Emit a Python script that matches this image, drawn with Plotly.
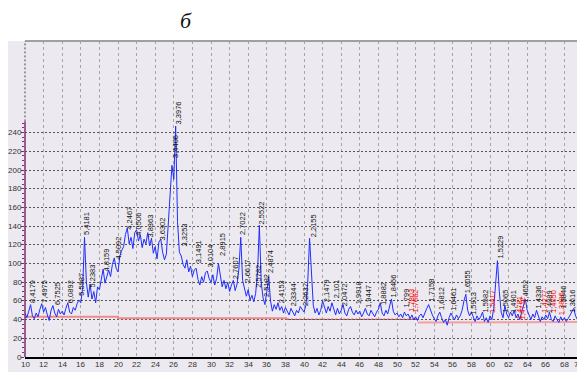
import plotly.graph_objects as go

# 2-theta sampling grid (degrees), step 0.2 from 10 to 70
two_theta = [round(10 + 0.2 * i, 1) for i in range(301)]

# intensity, rows of 2 degrees (10 points each)
intensity = (
    [47, 42, 49, 56, 44, 41, 47, 43, 51, 57] +      # 10
    [48, 53, 45, 39, 50, 55, 47, 43, 51, 46] +      # 12
    [49, 45, 52, 58, 48, 46, 53, 50, 57, 61] +      # 14
    [58, 74, 128, 80, 64, 78, 62, 70, 58, 75] +     # 16
    [72, 83, 94, 79, 87, 93, 86, 99, 106, 95] +     # 18
    [91, 108, 114, 118, 131, 138, 121, 128, 116, 133] +  # 20
    [136, 124, 131, 117, 126, 121, 133, 119, 127, 111] +  # 22
    [118, 105, 123, 126, 112, 104, 110, 145, 178, 205] +  # 24
    [190, 247, 145, 112, 108, 99, 95, 104, 91, 97] +  # 26
    [86, 93, 95, 83, 77, 86, 80, 90, 92, 84] +      # 28
    [80, 88, 77, 84, 100, 87, 75, 82, 73, 80] +     # 30
    [70, 77, 82, 71, 78, 94, 128, 82, 72, 65] +     # 32
    [72, 61, 66, 59, 68, 90, 141, 80, 63, 56] +     # 34
    [70, 86, 60, 49, 56, 51, 58, 50, 54, 47] +      # 36
    [53, 49, 45, 52, 48, 44, 50, 47, 54, 51] +      # 38
    [48, 55, 80, 127, 88, 55, 47, 52, 45, 50] +     # 40
    [60, 52, 47, 54, 49, 58, 50, 45, 52, 46] +      # 42
    [50, 56, 47, 44, 51, 54, 48, 45, 50, 46] +      # 44
    [49, 43, 47, 52, 46, 44, 50, 47, 43, 48] +      # 46
    [51, 58, 47, 44, 50, 46, 53, 62, 49, 45] +      # 48
    [47, 43, 46, 42, 48, 44, 46, 41, 45, 40] +      # 50
    [43, 39, 44, 46, 42, 48, 52, 56, 50, 45] +      # 52
    [41, 38, 44, 48, 42, 37, 40, 34, 42, 47] +      # 54
    [43, 40, 45, 41, 44, 50, 60, 67, 50, 44] +      # 56
    [48, 42, 38, 44, 40, 43, 48, 38, 42, 37] +      # 58
    [44, 40, 52, 78, 103, 70, 48, 42, 55, 46] +     # 60
    [42, 48, 44, 50, 42, 46, 40, 48, 54, 62] +      # 62
    [50, 44, 40, 46, 42, 50, 44, 38, 43, 40] +      # 64
    [45, 41, 48, 40, 38, 44, 40, 37, 43, 39] +      # 66
    [42, 38, 41, 45, 48, 52, 44, 40, 46, 50] +      # 68
    [45]                                            # 70
)

# background (red) step line
bg_x = [10, 20, 20, 38.2]
bg_y = [43, 43, 41.4, 41.4]
bg2_x = [38.2, 52.2]
bg2_y = [40.4, 40.4]
bg3_x = [52.2, 62.6, 62.6, 70]
bg3_y = [36.8, 36.8, 37.4, 37.4]

# peak labels (d-spacings)
label_text = ["8,4179", "7,4975", "6,7525", "6,0892", "5,5987", "5,4181", "5,2383",
              "4,8159", "4,5092", "4,2467", "4,0506", "3,8363", "3,6302", "3,4406",
              "3,3976", "3,3253", "3,1491", "3,0104", "2,8915", "2,7607", "2,7022",
              "2,6617", "2,5782", "2,5522", "2,5182", "2,4874", "2,4153", "2,3344",
              "2,2637", "2,2155", "2,1479", "2,101", "2,0472", "1,9918", "1,9447",
              "1,8882", "1,8456", "1,799", "1,7803", "1,7662", "1,7158", "1,6812",
              "1,6461", "1,6055", "1,5913", "1,5582", "1,5417", "1,5229", "1,5065",
              "1,4901", "1,4781", "1,4712", "1,4652", "1,4336", "1,4277", "1,4089",
              "1,4050", "1,3886", "1,3846", "1,3616"]
label_x = [10.5, 11.8, 13.1, 14.5, 15.8, 16.35, 16.9,
           18.4, 19.7, 20.9, 21.9, 23.2, 24.5, 25.87,
           26.21, 26.8, 28.3, 29.65, 30.9, 32.4, 33.13,
           33.64, 34.77, 35.13, 35.62, 36.08, 37.19, 38.53,
           39.79, 40.69, 42.03, 43.2, 44.0, 45.5, 46.67,
           48.15, 49.34, 50.7, 51.2, 51.7, 53.35, 54.54,
           55.8, 57.34, 57.9, 59.25, 59.95, 60.77, 61.4,
           62.2, 62.8, 63.1, 63.5, 64.9, 65.5, 66.1,
           66.5, 67.4, 67.6, 68.6]
label_y = [58, 58, 56, 58, 66, 130, 74,
           91, 104, 136, 130, 128, 125, 213,
           249, 118, 100, 96, 108, 83, 130,
           80, 74, 142, 64, 90, 58, 54,
           54, 128, 59, 63, 54, 56, 52,
           56, 64, 53, 48, 48, 59, 50,
           50, 68, 45, 47, 47, 105, 47,
           47, 40, 40, 58, 52, 47, 47,
           47, 45, 52, 48]
label_color = ["k"] * 38 + ["r", "r"] + ["k"] * 6 + ["r"] + ["k"] * 3 + ["r", "r"] + ["k", "k", "r", "k", "r", "r", "k", "k"]

# axis ticks
x_ticks = list(range(10, 71, 2))
y_ticks = list(range(0, 241, 20))

BG = "#eceaf0"
FONT = "Liberation Sans, Arial"
fig = go.Figure()

fig.add_trace(go.Scatter(x=bg_x, y=bg_y, mode="lines",
                         line=dict(color="#f08a8a", width=2), hoverinfo="skip"))
fig.add_trace(go.Scatter(x=bg2_x, y=bg2_y, mode="lines",
                         line=dict(color="#b01010", width=1, dash="2px,2px"), hoverinfo="skip"))
fig.add_trace(go.Scatter(x=bg3_x, y=bg3_y, mode="lines",
                         line=dict(color="#f4a0a0", width=2), hoverinfo="skip"))
fig.add_trace(go.Scatter(x=two_theta, y=intensity, mode="lines",
                         line=dict(color="#1f2dff", width=1), hoverinfo="skip"))

colmap = {"k": "#111111", "r": "#ff0000"}
for t, lx, ly, c in zip(label_text, label_x, label_y, label_color):
    fig.add_annotation(x=lx, y=ly, text=t, textangle=-90, showarrow=False,
                       xanchor="center", yanchor="bottom", xshift=3,
                       font=dict(family=FONT, size=7.5, color=colmap[c]),
                       borderpad=0, borderwidth=0)

# x tick labels drawn as annotations just below the axis
for v in x_ticks:
    fig.add_annotation(x=v, xref="x", y=0, yref="paper", text=str(v), showarrow=False,
                       xanchor="right" if v == x_ticks[-1] else "center",
                       yanchor="middle", yshift=-7.5, borderpad=0,
                       borderwidth=0,
                       font=dict(family=FONT, size=8, color="#333"))

# y tick labels drawn as annotations left of the axis
for v in y_ticks:
    fig.add_annotation(x=0, xref="paper", y=v, yref="y", text=str(v), showarrow=False,
                       xanchor="right", yanchor="middle", xshift=-3, borderpad=0,
                       borderwidth=0,
                       font=dict(family=FONT, size=8, color="#333"))

# title
fig.add_annotation(xref="paper", yref="paper", x=0.2885, y=1.066, text="<i>б</i>",
                   showarrow=False, xanchor="center", yanchor="middle",
                   font=dict(family="Liberation Serif, Times New Roman", size=22, color="#111"))

# white top band, top border, left axis segments
fig.add_shape(type="rect", xref="paper", yref="paper", x0=-0.1, x1=1.1, y0=1.0, y1=1.3,
              fillcolor="white", line=dict(width=0), layer="below")
fig.add_shape(type="line", xref="paper", yref="paper", x0=0, x1=1, y0=1, y1=1,
              line=dict(color="#a0a0a0", width=2))
fig.add_shape(type="line", xref="paper", yref="y", x0=0, x1=0, y0=0, y1=252,
              line=dict(color="#7d2f6e", width=1.5))
fig.add_shape(type="line", xref="paper", yref="y", x0=0, x1=0, y0=252, y1=338,
              line=dict(color="#444", width=1, dash="2px,2px"))

# the page places the figure 8 px in from the top-left corner, so the figure is
# 8 px smaller in each direction to keep the plot where the reference has it
fig.update_layout(
    width=577, height=364,
    margin=dict(l=17, r=2, t=33, b=15),
    paper_bgcolor=BG, plot_bgcolor=BG,
    showlegend=False,
    xaxis=dict(range=[10, 70], tickmode="array", tickvals=x_ticks,
               showticklabels=False, automargin=False,
               showgrid=True, gridcolor="#a5a5a5", griddash="3px,3px", gridwidth=1,
               showline=True, linecolor="#000", linewidth=2, ticks="",
               zeroline=False, fixedrange=True),
    yaxis=dict(range=[0, 338], tickmode="array", tickvals=y_ticks, automargin=False,
               showticklabels=False,
               showgrid=True, gridcolor="#555", griddash="2px,2px", gridwidth=1,
               showline=False, ticks="outside", ticklen=3, tickcolor="#7d2f6e", tickwidth=1,
               minor=dict(tickmode="array", tickvals=[v for v in range(0, 253, 5) if v % 20],
                          ticks="outside", ticklen=2, tickcolor="#7d2f6e", showgrid=False),
               zeroline=False, fixedrange=True),
)

fig.write_html("out.html")
